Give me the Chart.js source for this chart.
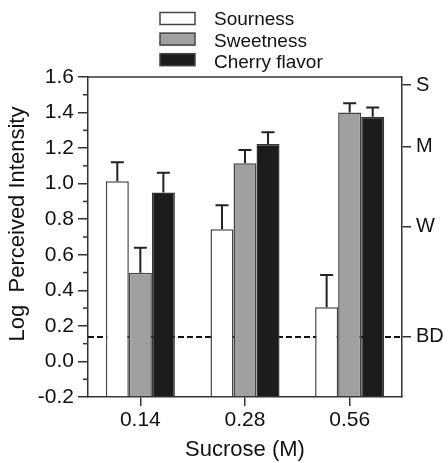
<!DOCTYPE html>
<html><head><meta charset="utf-8">
<script src="https://cdn.jsdelivr.net/npm/chart.js@4.4.0/dist/chart.umd.min.js"></script>
<style>html,body{margin:0;padding:0;background:#fff;}</style>
</head><body>
<canvas id="c" width="448" height="463" style="width:448px;height:463px;display:block"></canvas>
<script>
const categories = ['0.14', '0.28', '0.56'];
const seriesNames = ['Sourness', 'Sweetness', 'Cherry flavor'];
const sourness = [1.013, 0.743, 0.305];
const sweetness = [0.499, 1.115, 1.400];
const cherry = [0.951, 1.223, 1.377];
const sournessErr = [0.107, 0.135, 0.181];
const sweetnessErr = [0.141, 0.074, 0.052];
const cherryErr = [0.111, 0.066, 0.052];
const yMin = -0.2, yMax = 1.6, yStep = 0.2, yMinorStep = 0.1;
const rightTickValues = [0.14, 0.76, 1.21, 1.555];
const rightTickLabels = ['BD', 'W', 'M', 'S'];
const bdLevel = 0.14;
const yTitle = 'Log  Perceived Intensity';
const xTitle = 'Sucrose (M)';

const FONT = '"Liberation Sans", Arial, Helvetica, sans-serif';
const AX = '#333333';
const errs = [sournessErr, sweetnessErr, cherryErr];

const extras = {
  id: 'extras',
  beforeDatasetsDraw(chart) {
    const {ctx, chartArea: a, scales: {y}} = chart;
    ctx.save();
    ctx.strokeStyle = '#111';
    ctx.lineWidth = 2;
    ctx.setLineDash([6, 3]);
    const py = Math.round(y.getPixelForValue(bdLevel));
    ctx.beginPath(); ctx.moveTo(a.left, py); ctx.lineTo(a.right, py); ctx.stroke();
    ctx.restore();
  },
  afterDatasetsDraw(chart) {
    const {ctx, scales: {y}} = chart;
    ctx.save();
    ctx.strokeStyle = '#222';
    ctx.lineWidth = 2;
    chart.data.datasets.forEach((ds, di) => {
      const meta = chart.getDatasetMeta(di);
      meta.data.forEach((el, i) => {
        const top = y.getPixelForValue(ds.data[i] + errs[di][i]);
        ctx.beginPath();
        ctx.moveTo(el.x, el.y); ctx.lineTo(el.x, top);
        ctx.moveTo(el.x - 6.5, top); ctx.lineTo(el.x + 6.5, top);
        ctx.stroke();
      });
    });
    ctx.restore();
  },
  afterDraw(chart) {
    const {ctx, chartArea: a, scales: {y}} = chart;
    ctx.save();
    ctx.strokeStyle = AX; ctx.lineWidth = 1.5;
    ctx.beginPath(); ctx.moveTo(a.left, a.top); ctx.lineTo(a.right, a.top); ctx.stroke();
    for (let v = yMin + yMinorStep; v < yMax; v += 2 * yMinorStep) {
      const py = y.getPixelForValue(v);
      ctx.beginPath(); ctx.moveTo(a.left - 5, py); ctx.lineTo(a.left, py); ctx.stroke();
    }
    ctx.fillStyle = '#111';
    ctx.font = '22px ' + FONT;
    ctx.textAlign = 'center'; ctx.textBaseline = 'middle';
    ctx.translate(18, 224); ctx.rotate(-Math.PI / 2);
    ctx.fillText(yTitle, 0, 0);
    ctx.restore();
    ctx.save();
    ctx.font = '19px ' + FONT;
    ctx.textAlign = 'left'; ctx.textBaseline = 'middle';
    chart.data.datasets.forEach((ds, i) => {
      const cy = 18.5 + i * 20.6;
      ctx.fillStyle = ds.backgroundColor;
      ctx.fillRect(160, cy - 6, 35, 12);
      ctx.strokeStyle = '#444'; ctx.lineWidth = 1.5;
      ctx.strokeRect(160, cy - 6, 35, 12);
      ctx.fillStyle = '#111';
      ctx.fillText(ds.label, 214, 20 + i * 21.3);
    });
    ctx.restore();
  }
};

new Chart(document.getElementById('c'), {
  type: 'bar',
  data: {
    labels: categories,
    datasets: [
      {label: seriesNames[0], data: sourness, base: yMin, backgroundColor: '#ffffff', borderColor: '#444', borderWidth: 1.5},
      {label: seriesNames[1], data: sweetness, base: yMin, backgroundColor: '#a0a0a0', borderColor: '#444', borderWidth: 1.5},
      {label: seriesNames[2], data: cherry, base: yMin, backgroundColor: '#1c1c1c', borderColor: '#333', borderWidth: 1.5}
    ]
  },
  options: {
    responsive: false,
    animation: false,
    devicePixelRatio: 1,
    categoryPercentage: 0.66,
    barPercentage: 1,
    layout: {padding: {top: 77, left: 0, right: 0, bottom: 0}},
    plugins: {legend: {display: false}, tooltip: {enabled: false}},
    scales: {
      x: {
        offset: true,
        grid: {offset: false, drawOnChartArea: false, drawTicks: true, tickLength: 9, color: AX, lineWidth: 1.5},
        border: {display: true, color: AX, width: 1.5},
        ticks: {font: {size: 21, family: FONT}, color: '#111', padding: 2},
        title: {display: true, text: xTitle, font: {size: 22, family: FONT}, color: '#111', padding: {top: 0, bottom: 0}},
        afterFit: s => { s.height = 66; }
      },
      y: {
        min: yMin, max: yMax,
        ticks: {stepSize: yStep, callback: v => Number(v).toFixed(1), font: {size: 21, family: FONT}, color: '#111', padding: 4},
        grid: {drawOnChartArea: false, tickLength: 10, color: AX, lineWidth: 1.5},
        border: {display: true, color: AX, width: 1.5},
        afterFit: s => { s.width = 88; }
      },
      y2: {
        position: 'right',
        min: yMin, max: yMax,
        afterBuildTicks: s => { s.ticks = rightTickValues.map(v => ({value: v})); },
        ticks: {callback: (v, i) => rightTickLabels[i], font: {size: 20, family: FONT}, color: '#111', padding: 5},
        grid: {drawOnChartArea: false, tickLength: 9, color: AX, lineWidth: 1.5},
        border: {display: true, color: AX, width: 1.5},
        afterFit: s => { s.width = 46; }
      }
    }
  },
  plugins: [extras]
});
</script>
</body></html>
